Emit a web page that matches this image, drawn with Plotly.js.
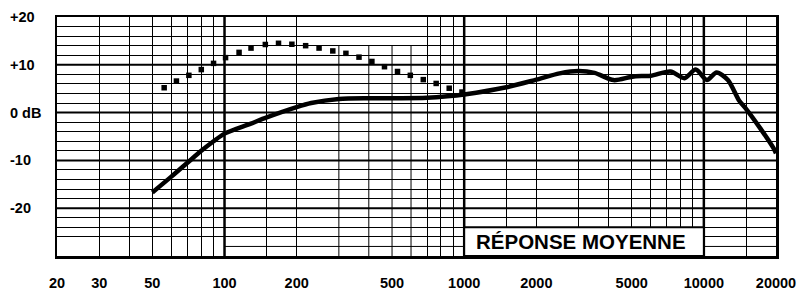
<!DOCTYPE html>
<html>
<head>
<meta charset="utf-8">
<script src="https://cdn.plot.ly/plotly-3.0.1.min.js"></script>
<style>html,body{margin:0;padding:0;background:#fff;}#chart{width:799px;height:294px;}</style>
</head>
<body>
<div id="chart"></div>
<script>
// Solid curve: average response (Hz, dB)
const solidFreq = [50, 60, 70, 80, 90, 100, 128, 150, 200, 230, 300, 400, 500, 700, 850, 1000, 1500, 2000, 2500, 3000, 3500, 4200, 4900, 5200, 6000, 7250, 8300, 9250, 10300, 11300, 12600, 14000, 15000, 17200, 19500, 20000];
const solidDb   = [-16.7, -13.4, -10.5, -8.0, -6.0, -4.4, -2.35, -1.0, 1.15, 2.0, 2.85, 3.0, 3.0, 3.1, 3.4, 3.8, 5.3, 6.9, 8.2, 8.7, 8.3, 6.8, 7.4, 7.6, 7.7, 8.6, 7.2, 9.0, 6.8, 8.4, 6.8, 2.6, 0.8, -3.3, -7.4, -8.5];

// Dotted curve: proximity effect (Hz, dB)
const dotFreq = [56, 63, 71, 80, 90, 101, 115, 129, 148, 168, 191, 218, 248, 283, 321, 364, 412, 465, 527, 596, 675, 764, 866, 979];
const dotDb   = [5.2, 6.6, 7.8, 9.0, 10.3, 11.5, 12.6, 13.5, 14.25, 14.5, 14.3, 14.0, 13.5, 12.9, 12.4, 11.6, 10.7, 9.6, 8.6, 7.8, 6.9, 6.1, 5.1, 4.3];

// Axis ticks and grid
const xLabelVals = [20, 30, 50, 100, 200, 500, 1000, 2000, 5000, 10000, 20000];
const xLabelText = ['20', '30', '50', '100', '200', '500', '1000', '2000', '5000', '10000', '20000'];
const xGridFull  = [30, 40, 50, 60, 70, 80, 90, 100, 150, 200, 700, 800, 900, 1000, 1500, 2000, 3000, 4000, 5000, 6000, 7000, 8000, 9000, 10000, 15000];
const xGridPartial = [300, 400, 500, 600];
const xGridMajor = [100, 1000, 10000];
const yGrid = [-26, -24, -22, -20, -18, -16, -14, -12, -10, -8, -6, -4, -2, 0, 2, 4, 6, 8, 10, 12, 14, 16, 18];
const yGridMajor = [10, 0, -10, -20];
const yLabelVals = [20, 10, 0, -10, -20];
const yLabelText = ['+20', '+10', '0 dB', '-10', '-20'];
const boxLabel = 'RÉPONSE MOYENNE';

const FONT = {family: 'Liberation Sans, Arial, sans-serif', size: 14.5, color: '#000', weight: 700};

const traces = [
  {x: solidFreq, y: solidDb, mode: 'lines', line: {color: '#000', width: 4.5, shape: 'spline', smoothing: 0.8}, xaxis: 'x', yaxis: 'y', hoverinfo: 'skip'},
  {x: dotFreq, y: dotDb, mode: 'markers', marker: {symbol: 'square', size: 5.5, color: '#000'}, xaxis: 'x2', yaxis: 'y', hoverinfo: 'skip'}
];

const shapes = [];
xGridPartial.forEach(v => shapes.push({type: 'line', layer: 'between', xref: 'x', yref: 'y', x0: v, x1: v, y0: -30, y1: 14, line: {color: '#000', width: 1}}));
shapes.push({type: 'line', layer: 'between', xref: 'x', yref: 'y', x0: 100, x1: 20000, y0: -28, y1: -28, line: {color: '#000', width: 1}});
xGridMajor.forEach(v => shapes.push({type: 'line', layer: 'between', xref: 'x', yref: 'paper', x0: v, x1: v, y0: 0, y1: 1, line: {color: '#000', width: 2.5}}));
yGridMajor.forEach(v => shapes.push({type: 'line', layer: 'between', xref: 'paper', yref: 'y', x0: 0, x1: 1, y0: v, y1: v, line: {color: '#000', width: 2}}));
shapes.push({type: 'rect', layer: 'between', xref: 'x', yref: 'y', x0: 1000, x1: 10000, y0: -30, y1: -24, fillcolor: '#fff', line: {color: '#000', width: 2}});

const annotations = yLabelVals.map((v, i) => ({
  xref: 'paper', yref: 'y', x: -0.068, y: v, xanchor: 'left', yanchor: 'middle',
  text: yLabelText[i], showarrow: false, font: FONT
}));
annotations.push({xref: 'x', yref: 'y', x: 3.488, y: -27, xanchor: 'center', yanchor: 'middle', text: boxLabel, showarrow: false,
  font: {family: 'Liberation Sans, Arial, sans-serif', size: 20.5, color: '#000', weight: 700}});

const layout = {
  width: 799, height: 294,
  margin: {l: 57, r: 23, t: 17, b: 38, pad: 0},
  paper_bgcolor: '#fff', plot_bgcolor: '#fff',
  showlegend: false,
  xaxis: {type: 'log', range: [Math.log10(20), Math.log10(20000)], tickmode: 'array', tickvals: xGridFull, showticklabels: false,
    showgrid: true, gridcolor: '#000', gridwidth: 1, ticks: '', zeroline: false,
    showline: true, mirror: true, linecolor: '#000', linewidth: 2.5, fixedrange: true},
  xaxis2: {type: 'log', overlaying: 'x', anchor: 'y', side: 'bottom', range: [Math.log10(20), Math.log10(20000)],
    tickmode: 'array', tickvals: xLabelVals, ticktext: xLabelText, showgrid: false, zeroline: false, showline: false,
    ticks: 'outside', ticklen: 14, tickcolor: 'rgba(0,0,0,0)', tickfont: FONT, fixedrange: true},
  yaxis: {range: [-30, 20], tickmode: 'array', tickvals: yGrid, showticklabels: false, showgrid: true, gridcolor: '#000', gridwidth: 1,
    ticks: '', zeroline: false, showline: true, mirror: true, linecolor: '#000', linewidth: 2.5, fixedrange: true},
  shapes: shapes,
  annotations: annotations
};

Plotly.newPlot('chart', traces, layout, {staticPlot: true, displayModeBar: false});
</script>
</body>
</html>
